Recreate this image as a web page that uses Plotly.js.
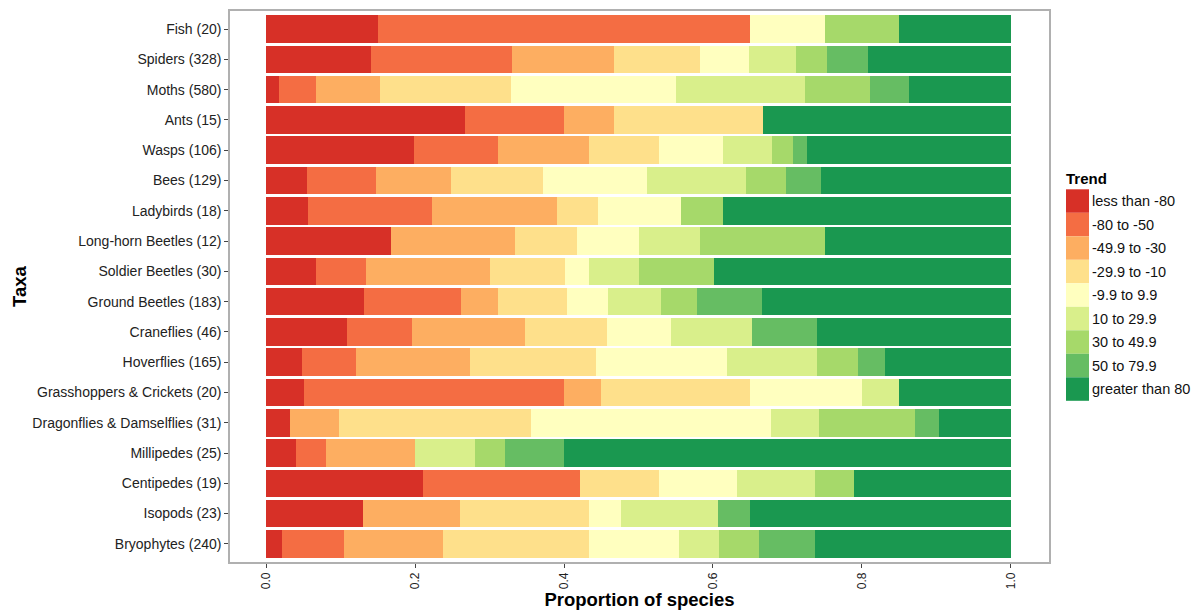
<!DOCTYPE html>
<html>
<head>
<meta charset="utf-8">
<script src="https://cdn.plot.ly/plotly-3.0.1.min.js"></script>
<style>
html,body{margin:0;padding:0;background:#fff;}
#chart{width:1201px;height:611px;}
</style>
</head>
<body>
<div id="chart"></div>
<script>
// ---- data ----
const taxa = ["Fish","Spiders","Moths","Ants","Wasps","Bees","Ladybirds","Long-horn Beetles","Soldier Beetles","Ground Beetles","Craneflies","Hoverflies","Grasshoppers & Crickets","Dragonflies & Damselflies","Millipedes","Centipedes","Isopods","Bryophytes"];
const speciesCounts = [20,328,580,15,106,129,18,12,30,183,46,165,20,31,25,19,23,240];

const trendLabels = ["less than -80","-80 to -50","-49.9 to -30","-29.9 to -10","-9.9 to 9.9","10 to 29.9","30 to 49.9","50 to 79.9","greater than 80"];
const trendColors = ["#d73027","#f46d43","#fdae61","#fee08b","#ffffbf","#d9ef8b","#a6d96a","#66bd63","#1a9850"];

const lessThanMinus80 = [0.150,0.141,0.017,0.267,0.198,0.054,0.056,0.167,0.067,0.131,0.109,0.048,0.050,0.032,0.040,0.211,0.130,0.021];
const minus80to50     = [0.500,0.189,0.050,0.133,0.113,0.093,0.167,0.000,0.067,0.131,0.087,0.073,0.350,0.000,0.040,0.211,0.000,0.083];
const minus49to30     = [0.000,0.137,0.086,0.067,0.123,0.101,0.167,0.167,0.167,0.049,0.152,0.152,0.050,0.065,0.120,0.000,0.130,0.133];
const minus29to10     = [0.000,0.116,0.176,0.200,0.094,0.124,0.056,0.083,0.100,0.093,0.109,0.170,0.200,0.258,0.000,0.105,0.174,0.196];
const minus9to9       = [0.100,0.066,0.221,0.000,0.085,0.140,0.111,0.083,0.033,0.055,0.087,0.176,0.150,0.323,0.000,0.105,0.043,0.121];
const plus10to29      = [0.000,0.062,0.174,0.000,0.066,0.132,0.000,0.083,0.067,0.071,0.109,0.121,0.050,0.065,0.080,0.105,0.130,0.054];
const plus30to49      = [0.100,0.042,0.087,0.000,0.028,0.054,0.056,0.167,0.100,0.049,0.000,0.055,0.000,0.129,0.040,0.053,0.000,0.054];
const plus50to79      = [0.000,0.055,0.052,0.000,0.019,0.047,0.000,0.000,0.000,0.087,0.087,0.036,0.000,0.032,0.080,0.000,0.043,0.075];
const greaterThan80   = [0.150,0.192,0.137,0.333,0.274,0.255,0.387,0.250,0.399,0.334,0.260,0.169,0.150,0.096,0.600,0.210,0.350,0.263];

const xTicks = [0, 0.2, 0.4, 0.6, 0.8, 1.0];

// ---- build ----
const seriesValues = [lessThanMinus80, minus80to50, minus49to30, minus29to10, minus9to9, plus10to29, plus30to49, plus50to79, greaterThan80];
const yLabels = taxa.map((t, i) => t + " (" + speciesCounts[i] + ")");

const FONT = "Liberation Sans, Arial, Helvetica, sans-serif";

const traces = seriesValues.map((vals, k) => ({
  type: "bar",
  orientation: "h",
  name: trendLabels[k],
  x: vals,
  y: yLabels,
  marker: {color: trendColors[k], line: {width: 0}},
  showlegend: false,
  hovertemplate: "%{y}<br>" + trendLabels[k] + ": %{x:.3f}<extra></extra>"
}));

// plot area in pixels
const L = 230, R = 1049, T = 11, B = 562;
const px = x => (x - L) / (R - L);
const py = y => (B - y) / (B - T);

// custom legend (large contiguous key blocks, ggplot-style)
const shapes = [];
const annotations = [];
const keyX0 = 1066, keyX1 = 1089, keyY0 = 189.3, keyH = 23.5;
trendLabels.forEach((lab, k) => {
  const y0 = keyY0 + k * keyH;
  shapes.push({
    type: "rect", xref: "paper", yref: "paper",
    x0: px(keyX0), x1: px(keyX1), y0: py(y0 + keyH), y1: py(y0),
    fillcolor: trendColors[k], line: {width: 0}
  });
  annotations.push({
    xref: "paper", yref: "paper", x: px(keyX1 + 1), y: py(y0 + keyH / 2),
    xanchor: "left", yanchor: "middle", showarrow: false,
    text: lab, font: {family: FONT, size: 14.5, color: "#111"}
  });
});
annotations.push({
  xref: "paper", yref: "paper", x: px(keyX0 - 2), y: py(178),
  xanchor: "left", yanchor: "middle", showarrow: false,
  text: "<b>Trend</b>", font: {family: FONT, size: 15, color: "#000"}
});

const layout = {
  width: 1201, height: 611,
  margin: {l: L, r: 1201 - R, t: T, b: 611 - B, pad: 0},
  paper_bgcolor: "#fff", plot_bgcolor: "#fff",
  barmode: "stack",
  bargap: 0.09,
  showlegend: false,
  font: {family: FONT, size: 14, color: "#222"},
  xaxis: {
    range: [-0.0488, 1.0514],
    tickvals: xTicks,
    tickformat: ".1f",
    tickangle: -90,
    ticks: "outside", ticklen: 4, tickwidth: 1, tickcolor: "#444",
    tickfont: {family: FONT, size: 12, color: "#222"},
    showgrid: false, zeroline: false,
    showline: true, mirror: true, linecolor: "#b0b0b0", linewidth: 1.5,
    title: {text: "<b>Proportion of species</b>", font: {family: FONT, size: 18.5, color: "#000"}, standoff: 4},
    automargin: false
  },
  yaxis: {
    type: "category",
    categoryorder: "array", categoryarray: yLabels,
    range: [17.6, -0.6],
    ticks: "outside", ticklen: 4, tickwidth: 1, tickcolor: "#444",
    tickfont: {family: FONT, size: 14, color: "#222"},
    showgrid: false, zeroline: false,
    showline: true, mirror: true, linecolor: "#b0b0b0", linewidth: 1.5,
    title: {text: "<b>Taxa</b>", font: {family: FONT, size: 18.5, color: "#000"}, standoff: 1},
    automargin: false
  },
  shapes: shapes,
  annotations: annotations
};

Plotly.newPlot("chart", traces, layout, {displayModeBar: false, staticPlot: false});
</script>
</body>
</html>
